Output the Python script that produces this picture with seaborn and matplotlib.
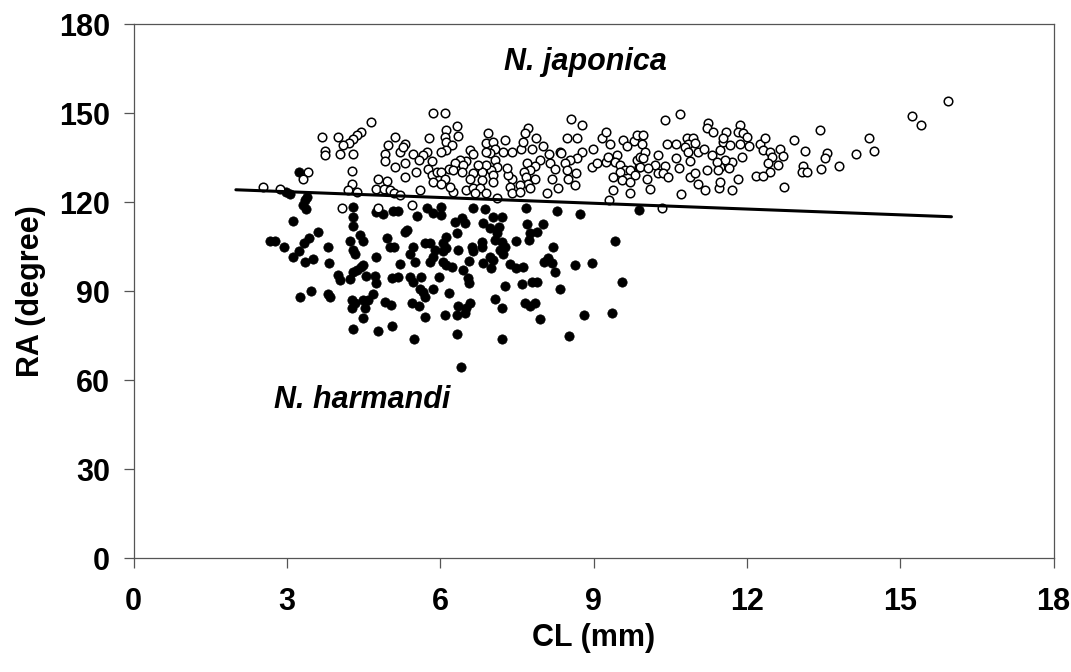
import matplotlib as mpl
mpl.use("Agg")
import matplotlib.pyplot as plt
import pandas as pd
import seaborn as sns

# N. japonica (open circles): CL (mm), RA (degree)
jap_cl = [5.86, 4.64, 3.68, 3.99, 4.44, 4.36, 4.30, 4.22, 4.09, 3.74, 3.74, 4.04, 4.30, 5.11, 4.98,
          4.92, 4.92, 5.21, 5.31, 5.26, 5.47, 5.31, 5.11, 5.77, 5.73, 5.66, 5.59, 5.83, 5.52, 5.76,
          5.83, 5.93, 5.86, 5.31, 4.79, 4.95, 4.74, 4.90, 5.02, 5.09, 5.21, 4.27, 4.27, 4.20, 4.36,
          3.42, 3.31, 2.54, 2.87, 5.60, 5.44, 4.07, 4.79,
          6.09, 6.32, 6.12, 6.09, 6.12, 6.35, 6.22, 6.12, 6.02,
          6.94, 6.90, 7.04, 7.07, 7.27, 6.97, 6.90, 6.58, 6.64, 6.51,
          6.38, 6.28, 6.45, 6.16, 6.25, 6.02, 7.23, 7.40, 7.58, 7.62, 7.72, 7.66, 7.87, 7.79, 8.00,
          8.13, 7.95, 8.34, 8.37, 8.47, 8.67, 8.55, 8.77, 8.99, 9.16, 9.25, 9.32,
          9.58, 9.78, 9.84, 9.65, 8.77, 8.67, 8.54, 8.14, 8.24, 8.44, 8.47, 8.65, 8.50, 8.63,
          8.31, 8.09, 8.18, 7.85, 7.69, 7.76, 7.63, 7.68, 7.85, 7.72, 7.56, 7.76,
          7.40, 7.33, 7.36, 7.40, 7.56, 7.30, 7.07, 7.10, 7.00, 7.04, 6.90, 6.81, 6.74, 6.64, 6.58, 6.81,
          7.04, 6.51, 6.64, 6.77, 6.67, 6.90, 7.10, 6.25, 6.19, 6.42, 6.09, 6.02,
          8.96, 9.06, 9.25, 9.28, 9.45, 9.42, 9.51, 9.61, 9.51, 9.38, 9.55, 9.71, 9.88, 9.81, 9.71,
          9.38, 9.71, 9.31, 9.84, 9.90,
          10.69, 10.40, 9.97, 9.94, 10.00, 9.97, 9.91, 10.26, 10.20, 10.07, 10.26, 10.40, 10.36, 10.46,
          10.04, 10.10, 10.43, 10.61, 10.62, 10.67, 10.89, 10.70, 10.82, 10.95, 10.85, 10.78, 10.98,
          10.85, 11.05, 10.89, 10.98, 11.05, 11.21, 11.18, 11.46, 11.47, 11.70, 11.83,
          11.15, 11.24, 11.21, 11.34, 11.31, 11.47, 11.53, 11.59, 11.54, 11.67, 11.70, 11.57, 11.47,
          11.41, 11.44, 11.64, 11.86, 11.83, 11.93, 12.00, 11.86, 12.03, 11.90,
          12.26, 12.36, 12.32, 12.45, 12.48, 12.42, 12.61, 12.64, 12.71, 12.45, 12.17, 12.32,
          12.92, 12.73, 13.14, 13.43, 13.56, 13.53, 13.10, 13.07, 13.18, 13.45, 13.81, 10.33,
          15.94, 15.22, 15.41, 14.38, 14.14, 14.49]
jap_ra = [150.2, 147.1, 142.1, 142.1, 143.8, 142.6, 141.2, 140.0, 139.2, 137.2, 135.9, 136.1, 136.1, 142.1, 139.2,
          136.2, 133.9, 137.0, 139.8, 138.5, 136.2, 133.1, 131.9, 141.7, 137.0, 135.9, 134.2, 134.0, 130.3, 131.2,
          129.1, 130.3, 126.9, 128.4, 128.0, 127.2, 124.6, 124.6, 124.1, 123.0, 122.4, 130.5, 126.0, 124.1, 123.5,
          130.3, 128.0, 125.0, 124.3, 124.1, 119.0, 117.9, 118.2,
          150.2, 145.7, 144.3, 142.1, 140.4, 142.3, 139.3, 137.6, 137.0,
          143.2, 140.0, 140.4, 138.1, 141.1, 136.5, 137.0, 137.6, 136.1, 134.0,
          134.2, 133.1, 132.5, 131.1, 130.8, 130.3, 137.0, 137.0, 138.1, 140.4, 145.2, 143.2, 141.8, 137.9, 139.0,
          136.1, 134.4, 137.0, 136.5, 141.8, 141.8, 148.0, 146.0, 137.9, 141.8, 143.8, 139.8,
          141.1, 140.7, 142.6, 138.8, 137.0, 134.8, 134.2, 133.3, 131.1, 133.1, 130.8, 129.9, 127.7, 125.8,
          124.7, 123.0, 127.7, 132.2, 133.1, 130.8, 130.3, 128.4, 127.7, 126.3, 125.8, 124.7,
          128.0, 129.1, 125.3, 123.0, 123.6, 131.4, 134.2, 131.9, 130.8, 129.1, 132.5, 130.3, 132.5, 129.7, 128.0, 127.4,
          126.9, 124.1, 124.7, 124.9, 123.0, 123.0, 121.3, 123.5, 125.2, 130.3, 128.0, 126.3,
          131.9, 133.3, 133.6, 135.3, 135.9, 133.6, 132.5, 130.8, 130.3, 128.6, 127.4, 130.8, 131.9, 129.1, 126.9,
          124.1, 123.2, 120.7, 134.2, 135.3,
          149.9, 147.9, 142.6, 139.8, 137.0, 134.8, 131.9, 135.9, 132.5, 131.4, 129.7, 132.2, 129.7, 128.6,
          128.0, 124.4, 139.8, 139.8, 134.8, 131.7, 134.0, 122.7, 141.5, 141.5, 139.8, 138.7, 140.0,
          137.0, 137.0, 128.4, 129.9, 126.1, 130.8, 124.1, 124.7, 126.9, 124.1, 128.0,
          138.1, 146.6, 144.9, 143.8, 135.9, 137.6, 140.4, 143.8, 141.5, 139.2, 133.6, 134.2, 131.9,
          133.6, 130.8, 131.4, 146.2, 143.8, 143.2, 142.1, 139.8, 139.0, 135.3,
          139.8, 141.5, 137.6, 137.0, 135.3, 133.1, 132.5, 138.1, 135.5, 130.3, 128.8, 128.8,
          141.1, 125.0, 137.2, 144.3, 136.5, 134.8, 132.2, 130.3, 130.3, 131.2, 132.2, 117.9,
          154.2, 149.1, 146.2, 141.8, 136.1, 137.2]

# N. harmandi (filled circles)
har_cl = [3.24, 2.99, 3.05, 3.39, 3.35, 3.32, 3.37, 4.30, 4.30, 4.75, 4.88, 5.08, 5.18, 5.54, 5.73, 5.86, 3.12,
          4.30, 3.60, 2.67, 2.77, 2.94, 3.34, 3.43, 3.24, 3.11, 3.35, 3.51, 3.81, 3.83, 4.23, 4.30, 4.33,
          4.43, 4.49, 4.36, 4.44, 4.30, 4.49, 4.00, 4.04, 4.23, 4.55, 4.72, 4.74, 4.75, 4.95, 5.02, 5.09,
          5.31, 5.34, 5.46, 5.41, 5.21, 5.51, 5.70, 5.80, 5.90, 5.80, 5.86, 5.05, 5.18, 5.41, 5.47, 5.63,
          5.60, 5.66, 5.70, 5.86, 5.98, 3.25, 3.47, 3.80, 3.84, 4.27, 4.33, 4.49, 4.59, 4.69, 4.28, 4.52,
          4.92, 5.04, 5.44, 5.59, 5.70, 4.48, 4.30, 4.78, 5.06, 5.49,
          6.63, 6.87, 7.68, 8.28, 8.73, 9.89, 9.42, 9.55, 8.96, 8.64, 8.21, 8.24, 8.02, 8.11, 8.18, 8.34,
          7.70, 7.76, 7.89, 8.00, 7.74, 7.48, 7.04, 7.20, 6.84, 6.97, 7.14, 7.10, 6.29, 6.42, 6.48, 6.32,
          6.12, 6.81, 6.81, 6.61, 6.64, 7.07, 7.20, 7.26, 7.17, 7.23, 6.97, 7.04, 6.06, 6.06, 6.12, 6.06,
          6.12, 6.22, 6.35, 6.57, 6.45, 6.84, 7.00, 7.36, 7.48, 7.62, 6.55, 6.57, 7.27, 7.59, 7.79, 7.89,
          6.16, 7.07, 7.66, 7.76, 7.85, 6.35, 6.51, 6.58, 6.48, 6.32, 6.09, 7.20, 8.82, 9.35, 7.95,
          6.33, 7.20, 8.52, 6.40, 6.02, 6.02]
har_ra = [130.3, 123.5, 122.7, 121.8, 120.7, 119.0, 117.7, 118.5, 115.1, 116.8, 116.0, 117.1, 117.1, 115.3, 117.9, 116.2, 113.5,
          111.9, 110.1, 106.9, 106.9, 105.0, 106.1, 107.8, 103.4, 101.6, 99.8, 100.8, 105.0, 99.6, 107.0, 103.8, 102.7,
          108.9, 107.0, 97.1, 98.2, 96.6, 98.8, 95.4, 93.7, 94.0, 95.0, 95.0, 92.6, 101.6, 108.1, 105.0, 105.0,
          110.1, 110.6, 105.0, 102.5, 99.1, 100.0, 106.1, 106.1, 103.8, 100.0, 101.6, 94.3, 94.9, 94.9, 93.2, 94.9,
          90.9, 89.8, 88.1, 90.6, 94.9, 88.1, 90.1, 89.0, 88.1, 87.0, 85.9, 87.0, 87.0, 89.0, 84.2, 84.2,
          86.5, 85.3, 85.9, 85.0, 81.2, 80.8, 77.1, 76.5, 78.2, 73.8,
          118.2, 117.6, 118.2, 117.0, 115.9, 117.3, 107.0, 93.2, 99.4, 98.8, 105.0, 96.6, 100.0, 101.1, 99.4, 90.6,
          112.8, 109.5, 110.1, 112.8, 107.2, 107.0, 115.1, 115.1, 113.1, 111.2, 111.7, 109.5, 113.4, 114.6, 112.9, 109.5,
          108.4, 106.7, 105.0, 105.0, 103.4, 107.2, 106.7, 105.0, 103.8, 102.7, 101.6, 100.5, 106.1, 103.4, 104.4, 100.0,
          98.8, 98.2, 103.8, 100.1, 97.1, 99.4, 97.7, 99.1, 97.7, 98.2, 94.3, 92.8, 91.7, 92.4, 93.2, 93.2,
          89.5, 87.2, 85.9, 85.0, 85.9, 85.0, 84.2, 85.9, 82.5, 81.9, 81.9, 84.2, 81.9, 82.7, 80.5,
          75.5, 73.8, 74.8, 64.5, 118.5, 115.7]

# discriminant line
line_cl = [2.0, 16.0]
line_ra = [124.2, 115.1]

xticks = [0, 3, 6, 9, 12, 15, 18]
yticks = [0, 30, 60, 90, 120, 150, 180]

sns.set_style("ticks")
plt.rcParams["font.family"] = ["Liberation Sans", "DejaVu Sans"]
plt.rcParams["font.weight"] = "bold"
plt.rcParams["text.color"] = "black"
plt.rcParams["axes.labelcolor"] = "black"
plt.rcParams["xtick.labelcolor"] = "black"
plt.rcParams["ytick.labelcolor"] = "black"

df_j = pd.DataFrame({"CL": jap_cl, "RA": jap_ra})
df_h = pd.DataFrame({"CL": har_cl, "RA": har_ra})
df_l = pd.DataFrame({"CL": line_cl, "RA": line_ra})

fig = plt.figure(figsize=(10.71, 6.72), dpi=100)
ax = fig.add_axes([0.1248, 0.1696, 0.859, 0.7942])

sns.scatterplot(data=df_h, x="CL", y="RA", ax=ax, color="black", s=45,
                edgecolor="black", linewidth=0.5, zorder=3)
sns.scatterplot(data=df_j, x="CL", y="RA", ax=ax, facecolor="white", s=38,
                edgecolor="black", linewidth=1.1, zorder=4)
sns.lineplot(data=df_l, x="CL", y="RA", ax=ax, color="black", linewidth=2.2, zorder=5)

ax.set_xlim(0, 18)
ax.set_ylim(0, 180)
ax.set_xticks(xticks)
ax.set_yticks(yticks)

for s in ax.spines.values():
    s.set_color("#555555")
    s.set_linewidth(0.9)
ax.tick_params(axis="x", direction="out", length=7, width=0.9, color="#555555",
               labelsize=22, pad=14)
ax.tick_params(axis="y", direction="out", length=7, width=0.9, color="#555555",
               labelsize=22, pad=10)
for lab in ax.get_xticklabels() + ax.get_yticklabels():
    lab.set_fontweight("bold")

ax.set_xlabel("CL (mm)", fontsize=22, fontweight="bold")
ax.set_ylabel("RA (degree)", fontsize=22, fontweight="bold")
ax.xaxis.set_label_coords(0.5, -0.122)
ax.yaxis.set_label_coords(-0.095, 0.5)

ax.text(8.83, 167.2, "N. japonica", fontsize=22, fontweight="bold", fontstyle="italic",
        ha="center", va="center")
ax.text(4.48, 53.3, "N. harmandi", fontsize=22, fontweight="bold", fontstyle="italic",
        ha="center", va="center")

fig.savefig("out.png", dpi=100)
